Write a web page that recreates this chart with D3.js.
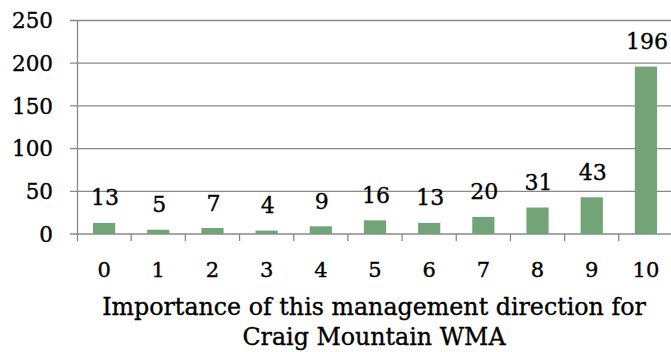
<!DOCTYPE html>
<html><head><meta charset="utf-8">
<script src="https://cdn.jsdelivr.net/npm/d3@7"></script>
<style>body{margin:0;background:#fff}svg{display:block}text{font-family:"DejaVu Serif",serif;fill:#000;stroke:#000;stroke-width:0.35px}</style>
</head><body>
<svg id="c" width="671" height="352"></svg>
<script>
const categories = ["0","1","2","3","4","5","6","7","8","9","10"];
const values = [13,5,7,4,9,16,13,20,31,43,196];
const yTicks = [0,50,100,150,200,250];
const titleLines = ["Importance of this management direction for","Craig Mountain WMA"];

const svg = d3.select("#c");
const x = d3.scaleBand().domain(categories).range([77,673]).paddingInner(0.59).paddingOuter(0.295);
const y = d3.scaleLinear().domain([0,250]).range([234,20.5]);
const grid = "#898989";

svg.append("g").selectAll("line").data(yTicks).join("line")
  .attr("x1",70).attr("x2",671).attr("y1",d=>y(d)).attr("y2",d=>y(d))
  .attr("stroke",grid).attr("stroke-width",1.3);
svg.append("line").attr("x1",77.5).attr("x2",77.5).attr("y1",y(250)).attr("y2",241)
  .attr("stroke",grid).attr("stroke-width",1.3);
const bounds = categories.map(c=>x(c)-(x.step()-x.bandwidth())/2).concat([673]);
svg.append("g").selectAll("line").data(bounds.slice(1,-1)).join("line")
  .attr("x1",d=>d).attr("x2",d=>d).attr("y1",234).attr("y2",241)
  .attr("stroke",grid).attr("stroke-width",1.3);

svg.append("g").selectAll("text").data(yTicks).join("text")
  .attr("x",53).attr("y",d=>y(d)).attr("dy","0.36em").attr("text-anchor","end")
  .style("font-size","21.5px").text(d=>d);

svg.append("g").selectAll("rect").data(values).join("rect")
  .attr("x",(d,i)=>x(categories[i])).attr("width",x.bandwidth())
  .attr("y",d=>y(d)).attr("height",d=>y(0)-y(d)).attr("fill","#72a478");

svg.append("g").selectAll("text").data(values).join("text")
  .attr("x",(d,i)=>x(categories[i])+x.bandwidth()/2+1).attr("y",d=>y(d)-17.5)
  .attr("text-anchor","middle").style("font-size","22px").text(d=>d);

svg.append("g").selectAll("text").data(categories).join("text")
  .attr("x",d=>x(d)+x.bandwidth()/2).attr("y",277)
  .attr("text-anchor","middle").style("font-size","21px").text(d=>d);

const t1 = svg.append("text").attr("x",374).attr("y",315).attr("text-anchor","middle")
  .style("font-size","22px").text(titleLines[0]);
const len = t1.node().getComputedTextLength();
const fs = 22*544/len;
t1.style("font-size",fs+"px");
svg.append("text").attr("x",374).attr("y",345).attr("text-anchor","middle")
  .style("font-size",fs+"px").text(titleLines[1]);
</script>
</body></html>
